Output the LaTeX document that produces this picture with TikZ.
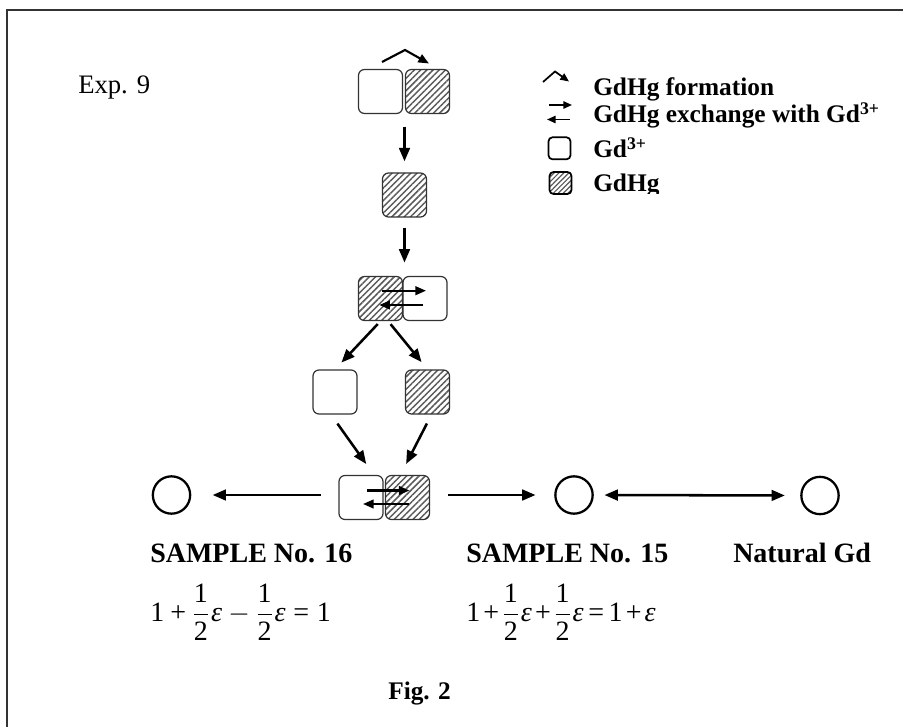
\documentclass[tikz,border=0pt]{standalone}
\usepackage{amsmath}
\usepackage{fontspec}
\setmainfont{Liberation Serif}
\usetikzlibrary{arrows.meta,patterns.meta,calc}
\newcommand{\tn}[1]{\textnormal{#1}}
\newcommand{\hf}{\dfrac{\tn{1}}{\tn{2}}}
\newcommand{\eps}{\mkern1mu\tn{\itshape ε}}
\begin{document}
\begin{tikzpicture}[x=0.75pt,y=-0.75pt,
  box/.style={draw=black!80,line width=0.9pt,rounded corners=4.5pt,minimum width=33pt,minimum height=33pt,inner sep=0pt},
  hbox/.style={box,pattern={Lines[angle=45,distance=3.3pt,line width=1.1pt]},pattern color=black!65},
  ring/.style={circle,draw,line width=1.7pt,minimum size=28pt,inner sep=0pt},
  tipA/.tip={Triangle[length=10pt,width=8pt]},
  arr/.style={line width=1.9pt,-tipA},
  darr/.style={line width=1.9pt,tipA-tipA},
  xarr/.style={line width=1.6pt,-{Triangle[length=8pt,width=6.5pt]}},
  larr/.style={line width=1.3pt,-{Triangle[length=6.5pt,width=5.5pt]}},
  lab/.style={font=\fontsize{19}{22}\selectfont\bfseries,anchor=base west,inner sep=0pt},
  head/.style={font=\fontsize{21}{24}\selectfont\bfseries,anchor=base west,inner sep=0pt},
  txt/.style={font=\fontsize{20}{24}\selectfont,anchor=base west,inner sep=0pt},
  eqn/.style={font=\fontsize{21}{25}\selectfont,anchor=west,inner sep=0pt}]
\useasboundingbox (0,0) rectangle (903,727);
% frame
\draw[line width=1.6pt,black!80] (7,760) -- (7,10) -- (930,10);

% boxes
\node[box]  (A1) at (380.5,91.5) {};
\node[hbox] (A2) at (427.5,91.5) {};
\node[hbox] (B)  at (404.5,195) {};
\node[hbox] (C1) at (380.5,298.5) {};
\node[box]  (C2) at (425,298.5) {};
\node[box]  (D1) at (335,392) {};
\node[hbox] (D2) at (427.5,392) {};
\node[box]  (E1) at (361,497.5) {};
\node[hbox] (E2) at (407.5,497.5) {};
\node[ring] (L) at (171.5,495) {};
\node[ring] (M) at (574,495) {};
\node[ring] (R) at (820,495.5) {};

% formation arrow above top pair
\coordinate (f1) at (382,62);
\coordinate (f2) at (405,50);
\coordinate (f3) at (429,63.5);
\draw[xarr] (f1) -- (f2) -- (f3);

% exchange arrows
\draw[xarr] ($(C1.center)+(1.2,-7.8)$) -- ($(C2.center)+(1,-7.8)$);
\draw[xarr] ($(C2.center)+(-1.7,6.5)$) -- ($(C1.center)+(-1.2,6.5)$);
\draw[xarr] ($(E1.center)+(6,-7)$) -- ($(E2.center)+(2,-7)$);
\draw[xarr] ($(E2.center)+(1,6.5)$) -- ($(E1.center)+(2,6.5)$);

% flow arrows
\draw[arr,shorten <=9.4pt,shorten >=8.3pt] (A1.south -| B) -- (B.north);
\draw[arr,shorten <=7.5pt,shorten >=10pt] (B.south) -- (C1.north -| B);
\draw[arr,shorten <=3pt,shorten >=7pt] (C1.south) -- (D1.north);
\draw[arr,shorten <=3pt,shorten >=7pt] ($(C1.south)!0.17!(C2.south)$) -- (D2.north);
\draw[arr,shorten <=8.3pt,shorten >=10pt] ($(D1.south)+(-4,0)$) -- ($(E1.north)+(13,0)$);
\draw[arr,shorten <=7.5pt,shorten >=9.2pt] ($(D2.south)+(4,0)$) -- ($(E2.north)+(-7,0)$);
\draw[arr,shorten <=13pt,shorten >=16pt] (E1.west |- L.east) -- (L.east);
\draw[arr,shorten <=13.7pt,shorten >=14pt] (E2.east |- M.west) -- (M.west);
\draw[darr,shorten <=8pt,shorten >=11.5pt] (M.east) -- (R.west);

% legend symbols
\coordinate (g1) at (543,82);
\coordinate (g2) at (555,71.5);
\coordinate (g3) at (569,81.5);
\draw[larr] (g1) -- (g2) -- (g3);
\coordinate (h1) at (549,105);
\coordinate (h2) at (572,105);
\coordinate (h3) at (570,119.5);
\coordinate (h4) at (547,119.5);
\draw[larr] (h1) -- (h2);
\draw[larr] (h3) -- (h4);
\node[box,draw=black,minimum width=16.5pt,minimum height=16.5pt,rounded corners=3pt,line width=1.3pt] (LW) at (559.5,148.3) {};
\node[hbox,draw=black,minimum width=16.5pt,minimum height=16.5pt,rounded corners=3pt,line width=1.3pt,pattern={Lines[angle=45,distance=2.6pt,line width=0.9pt]}] (LH) at (560.5,183) {};

% legend texts (clipped at bottom as in original)
\begin{scope}
\clip (585,55) rectangle (900,193.5);
\node[lab] (t1) at (593,96) {GdHg formation};
\node[lab] (t2) at (593,123) {GdHg exchange with Gd\textsuperscript{3+}};
\node[lab] (t3) at (593,158) {Gd\textsuperscript{3+}};
\node[lab] (t4) at (593,192) {GdHg};
\end{scope}

% other texts
\node[txt] (exp) at (78,94) {Exp. 9};
\node[head] (s16) at (150,562) {SAMPLE No. 16};
\node[head] (s15) at (466,562) {SAMPLE No. 15};
\node[head] (nat) at (733,562) {Natural Gd};
\node[eqn] (e16) at (150,612) {$\tn{1} \mathbin{\tn{+}} \hf\eps - \hf\eps \mathrel{\tn{=}} \tn{1}$};
\node[eqn] (e15) at (466,612) {$\tn{1}\mkern2mu\tn{+}\mkern2mu\hf\eps\mkern2mu\tn{+}\mkern2mu\hf\eps\mkern3mu\tn{=}\mkern3mu\tn{1}\mkern2mu\tn{+}\mkern1mu\eps$};
\node[lab] (fig) at (388,699) {Fig. 2};
\end{tikzpicture}
\end{document}
